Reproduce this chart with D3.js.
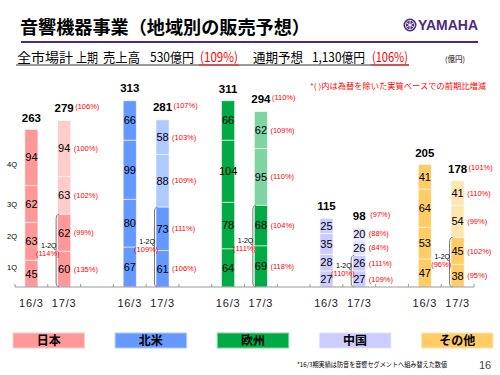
<!DOCTYPE html>
<html lang="ja">
<head>
<meta charset="UTF-8">
<title>音響機器事業（地域別の販売予想）</title>
<style>
    body { margin: 0; background: #fff; }
    svg text { font-family: "Liberation Sans", Arial, sans-serif; }
    svg text.jp { font-family: "Noto Sans CJK JP", sans-serif; }
</style>
</head>
<body>
<div id="chart"></div>
<script src="https://cdn.jsdelivr.net/npm/d3@7"></script>
<script>
    // Data (億円)
    const regions = ["日本", "北米", "欧州", "中国", "その他"];
    const periods = ["16/3", "17/3"];
    const quarters = ["1Q", "2Q", "3Q", "4Q"];
    const prevValues = [[45, 63, 62, 94], [67, 80, 99, 66], [64, 78, 104, 66], [27, 28, 35, 25], [47, 53, 64, 41]];
    const currValues = [[60, 62, 63, 94], [61, 73, 88, 58], [69, 68, 95, 62], [27, 26, 26, 20], [38, 45, 54, 41]];
    const prevTotals = [263, 313, 311, 115, 205];
    const currTotals = [279, 281, 294, 98, 178];
    const quarterPct = [[135, 99, 102, 100], [106, 111, 109, 103], [118, 104, 110, 109], [109, 111, 84, 88], [95, 102, 99, 110]];
    const totalPct = [106, 107, 110, 97, 101];
    const halfPct = [114, 109, 111, 110, 96];

    const darkColors = ["#FF9999", "#6699FF", "#00AA44", "#CCCCFF", "#FFCC66"];
    const lightColors = ["#FFCCCC", "#B0C9FF", "#80D4A2", "#E3E3FF", "#FFE5B2"];
    const red = "#FF0000";
    const purple = "#4B2A80";

    const width = 500, height = 375;
    const svg = d3.select("#chart").append("svg")
        .attr("width", width)
        .attr("height", height);

    // ---- header ----
    svg.append("text")
        .attr("class", "jp")
        .attr("x", 20).attr("y", 34)
        .attr("font-size", 18).attr("font-weight", "bold")
        .attr("textLength", 290).attr("lengthAdjust", "spacingAndGlyphs")
        .text("音響機器事業（地域別の販売予想）");

    svg.append("line")
        .attr("x1", 21).attr("x2", 478)
        .attr("y1", 42).attr("y2", 42)
        .attr("stroke", purple).attr("stroke-width", 2);

    // logo
    const logo = svg.append("g").attr("transform", "translate(410,25)");
    logo.append("circle").attr("r", 6.5).attr("fill", purple);
    logo.append("circle").attr("r", 4.6).attr("fill", "none").attr("stroke", "#fff").attr("stroke-width", 0.8);
    [0, 60, 120].forEach(a => {
        logo.append("line")
            .attr("x1", 0).attr("y1", -4.2).attr("x2", 0).attr("y2", 4.2)
            .attr("transform", `rotate(${a})`)
            .attr("stroke", "#fff").attr("stroke-width", 0.9);
    });
    svg.append("text")
        .attr("x", 418).attr("y", 30)
        .attr("font-size", 14).attr("font-weight", "bold")
        .attr("fill", purple)
        .attr("textLength", 60).attr("lengthAdjust", "spacingAndGlyphs")
        .text("YAMAHA");

    // subtitle line
    const subParts = [
        { t: "全市場計", x: 17, w: 56, c: "#000" },
        { t: "上期", x: 76, w: 22, c: "#000" },
        { t: "売上高", x: 103, w: 37, c: "#000" },
        { t: "530億円", x: 150, w: 44, c: "#000" },
        { t: "(109%)", x: 200, w: 38, c: red },
        { t: "通期予想", x: 253, w: 50, c: "#000" },
        { t: "1,130億円", x: 312, w: 53, c: "#000" },
        { t: "(106%)", x: 372, w: 36, c: red }
    ];
    svg.selectAll(".sub").data(subParts).enter().append("text")
        .attr("class", "sub jp")
        .attr("x", d => d.x).attr("y", 62)
        .attr("font-size", 13)
        .attr("fill", d => d.c)
        .attr("textLength", d => d.w).attr("lengthAdjust", "spacingAndGlyphs")
        .text(d => d.t);
    svg.append("line")
        .attr("x1", 16).attr("x2", 409).attr("y1", 65).attr("y2", 65)
        .attr("stroke", "#000").attr("stroke-width", 0.8);
    subParts.filter(d => d.c === red).forEach(d => {
        svg.append("line")
            .attr("x1", d.x - 1).attr("x2", d.x + d.w + 1).attr("y1", 65).attr("y2", 65)
            .attr("stroke", red).attr("stroke-width", 0.8);
    });
    svg.append("text")
        .attr("class", "jp")
        .attr("x", 445).attr("y", 62)
        .attr("font-size", 7.5)
        .text("(億円)");

    svg.append("text")
        .attr("class", "jp")
        .attr("x", 310).attr("y", 89)
        .attr("font-size", 7.5).attr("fill", red)
        .attr("textLength", 176).attr("lengthAdjust", "spacingAndGlyphs")
        .text("*( )内は為替を除いた実質ベースでの前期比増減");

    // ---- scales ----
    const cats = [];
    regions.forEach((r, i) => {
        periods.forEach(p => cats.push(r + "|" + p));
        if (i < regions.length - 1) cats.push(r + "|gap");
    });
    const x = d3.scaleBand().domain(cats).range([15, 474]);
    const y = d3.scaleLinear().domain([0, 330]).range([287, 90]);
    const barW = x.bandwidth() * 0.4;
    const cx = (r, p) => x(r + "|" + p) + x.bandwidth() / 2;

    // stacked segments
    const segments = [];
    regions.forEach((r, i) => {
        periods.forEach((p, j) => {
            const vals = j === 0 ? prevValues[i] : currValues[i];
            let acc = 0;
            vals.forEach((v, q) => {
                segments.push({
                    region: r, period: p, ri: i, q: q, value: v,
                    y0: acc, y1: acc + v,
                    color: (j === 1 && q >= 2) ? lightColors[i] : darkColors[i]
                });
                acc += v;
            });
        });
    });

    svg.selectAll(".seg").data(segments).enter().append("rect")
        .attr("class", "seg")
        .attr("x", d => cx(d.region, d.period) - barW / 2)
        .attr("width", barW)
        .attr("y", d => y(d.y1))
        .attr("height", d => y(d.y0) - y(d.y1))
        .attr("fill", d => d.color)
        .attr("stroke", "#fff").attr("stroke-opacity", 0.7).attr("stroke-width", 0.8);

    svg.selectAll(".segLabel").data(segments).enter().append("text")
        .attr("class", "segLabel")
        .attr("x", d => cx(d.region, d.period))
        .attr("y", d => y((d.y0 + d.y1) / 2))
        .attr("dy", "0.36em")
        .attr("text-anchor", "middle")
        .attr("font-size", 11)
        .text(d => d.value);

    // percent labels for the 17/3 quarters
    segments.filter(d => d.period === "17/3").forEach(d => {
        svg.append("text")
            .attr("x", cx(d.region, d.period) + barW / 2 + 3)
            .attr("y", y((d.y0 + d.y1) / 2))
            .attr("dy", "0.35em")
            .attr("font-size", 7.5).attr("fill", red)
            .text(`(${quarterPct[d.ri][d.q]}%)`);
    });

    // totals
    regions.forEach((r, i) => {
        [prevTotals[i], currTotals[i]].forEach((t, j) => {
            svg.append("text")
                .attr("x", cx(r, periods[j]))
                .attr("y", y(t) - 8)
                .attr("text-anchor", "middle")
                .attr("font-size", 11.5).attr("font-weight", "bold")
                .text(t);
        });
        svg.append("text")
            .attr("x", cx(r, "17/3") + 11)
            .attr("y", y(currTotals[i]) - 11)
            .attr("font-size", 7.5).attr("fill", red)
            .text(`(${totalPct[i]}%)`);

        // 1-2Q bracket and label
        const half = currValues[i][0] + currValues[i][1];
        const xl = cx(r, "17/3") - barW / 2 - 1.5;
        const top = y(half), base = y(0);
        svg.append("path")
            .attr("d", `M${xl + 3},${top} Q${xl},${top} ${xl},${top + 5} V${base - 5} Q${xl},${base} ${xl + 3},${base}`)
            .attr("fill", "none").attr("stroke", "#777").attr("stroke-width", 1);
        const mx = (cx(r, "16/3") + cx(r, "17/3")) / 2 + 1;
        svg.append("text")
            .attr("x", mx).attr("y", y(half / 2) - 3)
            .attr("text-anchor", "middle")
            .attr("font-size", 7).text("1-2Q");
        svg.append("text")
            .attr("x", mx - 1).attr("y", y(half / 2) + 5)
            .attr("text-anchor", "middle")
            .attr("font-size", 7.5).attr("fill", red)
            .text(`(${halfPct[i]}%)`);
    });

    // quarter labels on the left
    const qLabelAt = [33, 84, 139, 206];
    svg.selectAll(".qLabel").data(quarters).enter().append("text")
        .attr("class", "qLabel")
        .attr("x", 12).attr("y", (d, i) => y(qLabelAt[i]))
        .attr("dy", "0.35em")
        .attr("text-anchor", "middle")
        .attr("font-size", 7.5)
        .text(d => d);

    // ---- x axis ----
    const axis = svg.append("g").attr("transform", `translate(0,${y(0)})`);
    axis.append("line")
        .attr("x1", 15).attr("x2", 474)
        .attr("stroke", "#999");
    axis.selectAll(".tick").data(cats.concat(["end"])).enter().append("line")
        .attr("x1", d => d === "end" ? 474 : x(d))
        .attr("x2", d => d === "end" ? 474 : x(d))
        .attr("y1", 0).attr("y2", -3)
        .attr("stroke", "#999");
    axis.selectAll(".xl").data(cats.filter(c => !c.endsWith("gap"))).enter().append("text")
        .attr("x", d => x(d) + x.bandwidth() / 2)
        .attr("y", 20)
        .attr("text-anchor", "middle")
        .attr("font-size", 11)
        .attr("letter-spacing", 0.8)
        .attr("fill", "#222")
        .text(d => d.split("|")[1]);

    // ---- legend ----
    const lx = d3.scaleBand().domain(regions).range([13, 493]).paddingInner(0.3);
    const legend = svg.selectAll(".legend").data(regions).enter().append("g")
        .attr("class", "legend")
        .attr("transform", d => `translate(${lx(d)},333)`);
    legend.append("rect")
        .attr("width", lx.bandwidth()).attr("height", 15)
        .attr("fill", (d, i) => darkColors[i])
        .attr("stroke", (d, i) => lightColors[i]).attr("stroke-width", 1);
    legend.append("text")
        .attr("class", "jp")
        .attr("x", lx.bandwidth() / 2).attr("y", 12)
        .attr("text-anchor", "middle")
        .attr("font-size", 12).attr("font-weight", "bold")
        .text(d => d);

    // footnote and page number
    svg.append("text")
        .attr("class", "jp")
        .attr("x", 297).attr("y", 367)
        .attr("font-size", 6.5)
        .attr("textLength", 150).attr("lengthAdjust", "spacingAndGlyphs")
        .text("*16/3期実績は防音を音響セグメントへ組み替えた数値");
    svg.append("text")
        .attr("x", 479).attr("y", 369)
        .attr("font-size", 11).attr("fill", "#444")
        .text("16");
</script>
</body>
</html>
